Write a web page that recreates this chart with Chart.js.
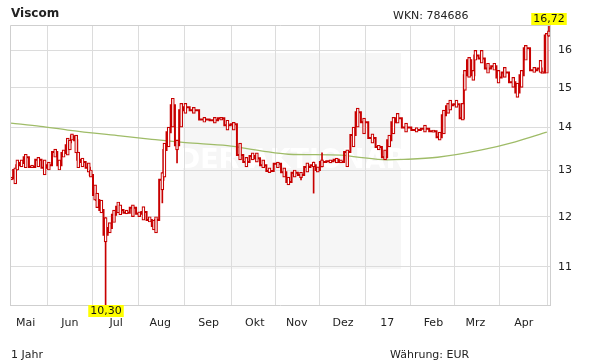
<!DOCTYPE html>
<html>
<head>
<meta charset="utf-8">
<script src="https://cdn.jsdelivr.net/npm/chart.js@4/dist/chart.umd.min.js"></script>
<style>
  html, body { margin: 0; padding: 0; background: #fff; }
  #wrap { position: relative; width: 611px; height: 364px; overflow: hidden; font-family: "DejaVu Sans", Verdana, sans-serif; }
  #c { position: absolute; left: 0; top: 0; }
  .txt { position: absolute; font-size: 11px; color: #222; white-space: nowrap; line-height: 13px; }
</style>
</head>
<body>
<div id="wrap">
  <canvas id="c" width="611" height="364"></canvas>
  <div class="txt" style="left:11px;top:7px;font-weight:bold;font-size:12px;">Viscom</div>
  <div class="txt" style="left:393px;top:9px;">WKN: 784686</div>
  <div class="txt" style="left:11px;top:348px;">1 Jahr</div>
  <div class="txt" style="left:390px;top:348px;">Währung: EUR</div>
</div>
<script>
// ---- data (trading-day index, prices in EUR) ----
const day = [0,2,3,5,7,10,13,16,18,21,23,25,27,28,29,31,32,34,37,38,40,41,43,45,47,49,51,52,55,58,61,63,66,68,69,72,73,75,77,79,81,83,87,92,97,100,103,106,109,112,115,117,120,123,127,130,132,135,138,141,144,146,148,152,155,157,160,163,165,168,172,175,178,180,182,184,188,193,197,201,204,206,208,209,212,215,216,218,220,221,224,227,230,232,235,239,241,243,245,249,252,253,255,256];
const close = [12.82,13.01,13.12,13.17,13.30,13.08,13.24,13.06,13.12,13.42,13.12,13.40,13.58,13.65,13.79,13.70,13.24,13.19,13.06,12.90,12.46,12.35,12.14,11.63,11.77,12.04,12.21,12.14,12.08,12.19,12.06,12.10,11.93,11.81,11.93,12.79,13.47,13.89,14.55,13.58,14.43,14.50,14.43,14.20,14.18,14.23,14.06,14.08,13.35,13.19,13.33,13.28,13.12,12.99,13.15,12.96,12.74,12.95,12.90,13.08,13.12,13.01,13.19,13.21,13.24,13.19,13.42,13.82,14.38,14.13,13.75,13.54,13.30,13.70,14.13,14.23,14.00,13.94,13.97,13.91,13.77,14.30,14.53,14.55,14.58,14.23,15.33,15.73,15.33,15.86,15.78,15.51,15.57,15.27,15.40,15.14,14.88,15.33,16.06,15.46,15.51,15.40,16.42,16.47];
const bodyLow = [12.79,12.70,13.01,13.08,13.06,13.06,13.08,12.90,13.01,13.30,13.01,13.30,13.35,13.47,13.70,13.40,13.06,13.08,12.96,12.85,12.35,12.19,12.08,11.49,11.67,11.88,12.08,12.04,12.06,12.00,12.00,11.93,11.89,11.73,11.67,12.57,12.85,13.54,14.01,13.47,14.01,14.35,14.35,14.13,14.11,14.18,13.94,13.94,13.24,13.08,13.24,13.19,13.06,12.95,13.06,12.85,12.68,12.85,12.84,12.96,13.08,12.96,13.08,13.17,13.17,13.17,13.08,13.54,14.01,13.85,13.63,13.47,13.24,13.54,13.85,14.11,13.89,13.89,13.89,13.89,13.70,13.85,14.35,14.43,14.50,14.18,14.93,15.27,15.19,15.73,15.65,15.38,15.46,15.12,15.27,15.01,14.75,15.01,15.73,15.40,15.40,15.38,15.38,16.40];
const bodyHigh = [12.85,13.06,13.24,13.24,13.37,13.12,13.30,13.24,13.19,13.49,13.24,13.47,13.75,13.70,13.85,13.82,13.42,13.28,13.17,13.01,12.68,12.50,12.35,11.98,11.88,12.14,12.31,12.25,12.14,12.25,12.10,12.21,12.00,11.93,12.00,12.95,13.63,14.01,14.73,13.70,14.60,14.60,14.50,14.25,14.25,14.25,14.18,14.13,13.63,13.30,13.40,13.40,13.24,13.06,13.19,13.06,12.85,13.01,12.96,13.17,13.19,13.08,13.24,13.24,13.28,13.24,13.47,14.01,14.48,14.23,13.85,13.58,13.47,13.82,14.25,14.35,14.11,14.00,14.06,13.94,13.89,14.43,14.60,14.68,14.68,14.60,15.46,15.81,15.46,16.00,16.00,15.65,15.65,15.46,15.54,15.27,15.12,15.46,16.14,15.54,15.73,15.40,16.48,16.55];
const wickDay = [45, 72, 79, 138, 144, 148, 256];
const wickLow = [10.30, 12.29, 13.17, 12.79, 12.50, 13.08, 16.40];
const wickHigh = [11.98, 12.95, 13.70, 12.96, 13.19, 13.40, 16.72];
const maDay = [0,14,27,52,67,83,103,119,132,157,164,179,187,203,224,240,255];
const maValue = [14.11,14.03,13.94,13.80,13.72,13.64,13.57,13.45,13.37,13.35,13.31,13.24,13.25,13.30,13.47,13.66,13.89];
const monthTickDay = [7,28,50,71,94,116,136,158,179,201,221,244];
const monthLabel = ["Mai","Jun","Jul","Aug","Sep","Okt","Nov","Dez","17","Feb","Mrz","Apr"];
const yTicks = [11,12,13,14,15,16];
const minPrice = {day: 45, value: 10.30, label: "10,30"};
const maxPrice = {day: 256, value: 16.72, label: "16,72"};

// ---- build datasets ----
const RED = '#c80000';
const closeData = day.map((d, i) => ({x: d, y: close[i]}));
const bodyData = day.map((d, i) => ({x: d, y: [bodyLow[i], bodyHigh[i]]}));
const wickData = wickDay.map((d, i) => ({x: d, y: [wickLow[i], wickHigh[i]]}));
const maData = maDay.map((d, i) => ({x: d, y: maValue[i]}));

const FONT = '"DejaVu Sans", Verdana, sans-serif';

const decor = {
  id: 'decor',
  beforeDraw(chart) {
    const ctx = chart.ctx;
    ctx.save();
    ctx.fillStyle = '#fff';
    ctx.fillRect(0, 0, chart.width, chart.height);
    // watermark
    ctx.fillStyle = '#f6f6f6';
    ctx.fillRect(183, 53, 218, 216);
    ctx.fillStyle = '#ffffff';
    ctx.font = 'bold 27px ' + FONT;
    ctx.textAlign = 'center';
    ctx.textBaseline = 'middle';
    ctx.fillText('DER AKTIONÄR', 292, 161);
    ctx.restore();
  },
  afterDatasetsDraw(chart) {
    const ctx = chart.ctx, a = chart.chartArea;
    const xs = chart.scales.x;
    ctx.save();
    ctx.strokeStyle = '#cfcfcf';
    ctx.lineWidth = 1;
    ctx.beginPath();
    ctx.moveTo(a.left + 0.5, a.bottom);
    ctx.lineTo(a.left + 0.5, a.top + 0.5);
    ctx.lineTo(a.right, a.top + 0.5);
    ctx.stroke();
    ctx.font = '11px ' + FONT;
    ctx.textAlign = 'center';
    ctx.textBaseline = 'middle';
    function tag(p, top) {
      const x = Math.round(xs.getPixelForValue(p.day));
      const w = ctx.measureText(p.label).width + 4;
      const h = 12;
      const y0 = top ? a.top - h : a.bottom;
      ctx.fillStyle = '#ffff00';
      ctx.fillRect(x - w / 2, y0, w, h);
      ctx.fillStyle = '#111';
      ctx.fillText(p.label, x, y0 + h / 2 + 0.5);
    }
    tag(maxPrice, true);
    tag(minPrice, false);
    ctx.restore();
  }
};

new Chart(document.getElementById('c'), {
  type: 'line',
  data: {
    datasets: [
      {type: 'bar', data: bodyData, backgroundColor: '#ffffff', borderColor: RED, borderWidth: 1.2, borderSkipped: false, barThickness: 3, grouped: false, order: 0},
      {type: 'bar', data: wickData, backgroundColor: RED, borderWidth: 0, barThickness: 1, grouped: false, order: 1},
      {type: 'line', data: closeData, borderColor: RED, borderWidth: 2, pointRadius: 0, stepped: 'middle', order: 2},
      {type: 'line', data: maData, borderColor: '#9fbc68', borderWidth: 1.3, pointRadius: 0, cubicInterpolationMode: 'monotone', order: 3}
    ]
  },
  options: {
    responsive: false,
    animation: false,
    devicePixelRatio: 1,
    layout: {padding: {left: 10, top: 25, right: 0, bottom: 0}},
    plugins: {legend: {display: false}, tooltip: {enabled: false}},
    scales: {
      x: {
        type: 'linear', min: -0.5, max: 256.5, offset: false,
        afterBuildTicks: s => { s.ticks = monthTickDay.map(v => ({value: v})); },
        afterFit: s => { s.height = 59; },
        grid: {color: '#dcdcdc', drawTicks: false},
        border: {color: '#cfcfcf'},
        ticks: {
          padding: 12, color: '#222', font: {family: FONT, size: 11}, maxRotation: 0, autoSkip: false,
          callback: (v) => { const k = monthTickDay.indexOf(v); return k >= 0 ? monthLabel[k] : ''; }
        }
      },
      y: {
        type: 'logarithmic', position: 'right', min: minPrice.value, max: maxPrice.value,
        afterBuildTicks: s => { s.ticks = yTicks.map(v => ({value: v})); },
        afterFit: s => { s.width = 61; },
        grid: {color: '#dcdcdc', drawTicks: false},
        border: {color: '#cfcfcf'},
        ticks: {padding: 8, color: '#222', font: {family: FONT, size: 11}, callback: v => String(v)}
      }
    }
  },
  plugins: [decor]
});
</script>
</body>
</html>
